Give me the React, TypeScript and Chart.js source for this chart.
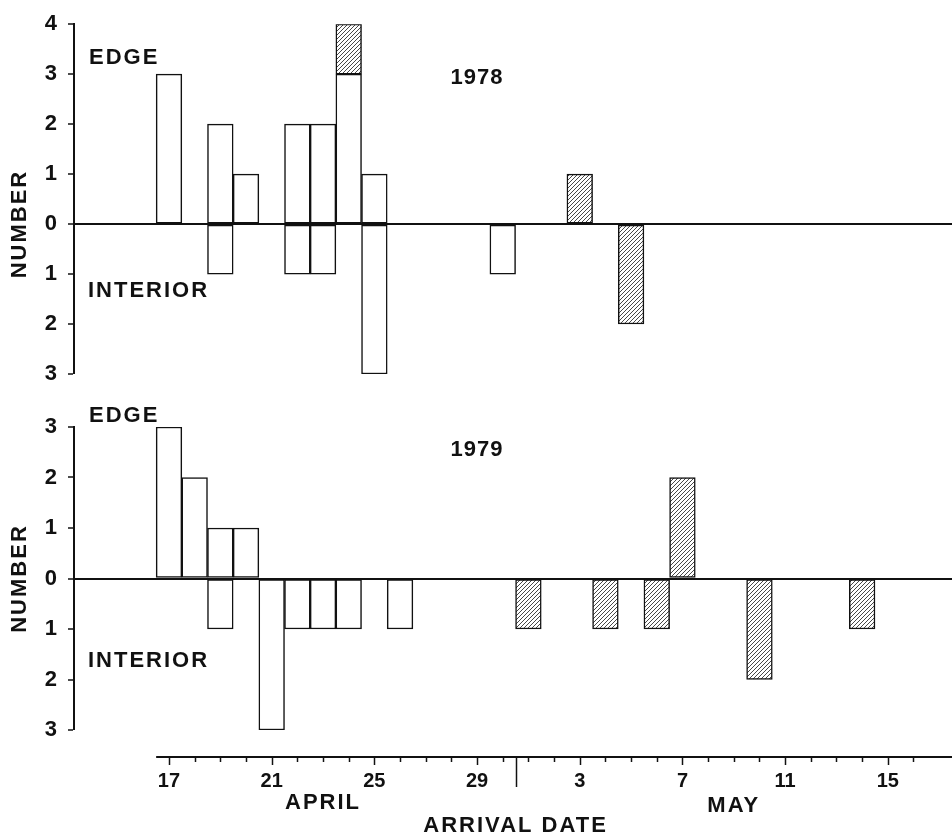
import React, { useEffect, useRef } from 'react';
import { Chart, registerables } from 'chart.js';

Chart.register(...registerables);

const FONT = "'Liberation Sans', Arial, Helvetica, sans-serif";
const INK = '#111';

// ---------- 1978 ----------
const EDGE_OPEN_1978_DATES = ['Apr 17', 'Apr 19', 'Apr 20', 'Apr 22', 'Apr 23', 'Apr 24', 'Apr 25'];
const EDGE_OPEN_1978 = [3, 2, 1, 2, 2, 3, 1];
const EDGE_HATCH_1978_DATES = ['Apr 24', 'May 3'];
const EDGE_HATCH_1978 = [1, 1];
const INTERIOR_OPEN_1978_DATES = ['Apr 19', 'Apr 22', 'Apr 23', 'Apr 25', 'Apr 30'];
const INTERIOR_OPEN_1978 = [1, 1, 1, 3, 1];
const INTERIOR_HATCH_1978_DATES = ['May 5'];
const INTERIOR_HATCH_1978 = [2];

// ---------- 1979 ----------
const EDGE_OPEN_1979_DATES = ['Apr 17', 'Apr 18', 'Apr 19', 'Apr 20'];
const EDGE_OPEN_1979 = [3, 2, 1, 1];
const EDGE_HATCH_1979_DATES = ['May 7'];
const EDGE_HATCH_1979 = [2];
const INTERIOR_OPEN_1979_DATES = ['Apr 19', 'Apr 21', 'Apr 22', 'Apr 23', 'Apr 24', 'Apr 26'];
const INTERIOR_OPEN_1979 = [1, 3, 1, 1, 1, 1];
const INTERIOR_HATCH_1979_DATES = ['May 1', 'May 4', 'May 6', 'May 10', 'May 14'];
const INTERIOR_HATCH_1979 = [1, 1, 1, 2, 1];

// ---------- x axis ----------
const X_TICK_DATES = ['Apr 17', 'Apr 21', 'Apr 25', 'Apr 29', 'May 3', 'May 7', 'May 11', 'May 15'];
const X_TICK_LABELS = ['17', '21', '25', '29', '3', '7', '11', '15'];
const MONTH_LABELS = ['APRIL', 'MAY'];
const MONTH_LABEL_DATES = ['Apr 23', 'May 9'];
const AXIS_FIRST_DATE = 'Apr 17';
const AXIS_LAST_DATE = 'May 16';
const X_TITLE = 'ARRIVAL DATE';
const Y_TITLE = 'NUMBER';

// day number counted from March 31
function dayNum(s: string): number {
  const [m, d] = s.split(' ');
  return (m === 'May' ? 30 : 0) + Number(d);
}

const X_MIN = dayNum('Apr 17') - 3.7;
const X_MAX = dayNum('May 15') + 2.5;

function makeHatch(): CanvasPattern | string {
  const s = 4;
  const c = document.createElement('canvas');
  c.width = s;
  c.height = s;
  const g = c.getContext('2d');
  if (!g) return '#ccc';
  g.fillStyle = '#fff';
  g.fillRect(0, 0, s, s);
  g.strokeStyle = '#333';
  g.lineWidth = 0.9;
  g.beginPath();
  g.moveTo(0, s);
  g.lineTo(s, 0);
  g.moveTo(-1, 1);
  g.lineTo(1, -1);
  g.moveTo(s - 1, s + 1);
  g.lineTo(s + 1, s - 1);
  g.stroke();
  return g.createPattern(c, 'repeat') || '#ccc';
}

type PanelCfg = {
  year: string;
  yearDate: string;
  yearAt: number;
  edgeAt: number;
  interiorAt: number;
  yMin: number;
  yMax: number;
  padTop: number;
  padBottom: number;
  edgeOpen: [string[], number[]];
  edgeHatch: [string[], number[]];
  interiorOpen: [string[], number[]];
  interiorHatch: [string[], number[]];
  xAxis: boolean;
};

const PANEL_1978: PanelCfg = {
  year: '1978',
  yearDate: 'Apr 29',
  yearAt: 2.92,
  edgeAt: 3.33,
  interiorAt: -1.33,
  yMin: -3,
  yMax: 4,
  padTop: 17,
  padBottom: 26,
  edgeOpen: [EDGE_OPEN_1978_DATES, EDGE_OPEN_1978],
  edgeHatch: [EDGE_HATCH_1978_DATES, EDGE_HATCH_1978],
  interiorOpen: [INTERIOR_OPEN_1978_DATES, INTERIOR_OPEN_1978],
  interiorHatch: [INTERIOR_HATCH_1978_DATES, INTERIOR_HATCH_1978],
  xAxis: false,
};

const PANEL_1979: PanelCfg = {
  year: '1979',
  yearDate: 'Apr 29',
  yearAt: 2.55,
  edgeAt: 3.21,
  interiorAt: -1.64,
  yMin: -3,
  yMax: 3,
  padTop: 27,
  padBottom: 106,
  edgeOpen: [EDGE_OPEN_1979_DATES, EDGE_OPEN_1979],
  edgeHatch: [EDGE_HATCH_1979_DATES, EDGE_HATCH_1979],
  interiorOpen: [INTERIOR_OPEN_1979_DATES, INTERIOR_OPEN_1979],
  interiorHatch: [INTERIOR_HATCH_1979_DATES, INTERIOR_HATCH_1979],
  xAxis: true,
};

function series(label: string, src: [string[], number[]], sign: number, fill: any) {
  const [dates, vals] = src;
  return {
    label,
    data: dates.map((d, i) => ({ x: dayNum(d), y: sign * vals[i] })),
    backgroundColor: fill,
    borderColor: INK,
    borderWidth: 1.5,
    borderSkipped: false as const,
    barPercentage: 1,
    categoryPercentage: 1,
  };
}

function makeChart(canvas: HTMLCanvasElement, cfg: PanelCfg, hatch: any) {
  const annotate = {
    id: 'annotate',
    afterDraw(chart: any) {
      const { ctx, chartArea } = chart;
      const x = chart.scales.x;
      const y = chart.scales.y;
      ctx.save();
      ctx.fillStyle = INK;
      ctx.textBaseline = 'middle';
      ctx.font = `bold 22px ${FONT}`;
      (ctx as any).letterSpacing = '2px';
      ctx.textAlign = 'left';
      ctx.fillText('EDGE', chartArea.left + 15, y.getPixelForValue(cfg.edgeAt));
      ctx.fillText('INTERIOR', chartArea.left + 14, y.getPixelForValue(cfg.interiorAt));
      (ctx as any).letterSpacing = '1px';
      ctx.textAlign = 'center';
      ctx.fillText(cfg.year, x.getPixelForValue(dayNum(cfg.yearDate)), y.getPixelForValue(cfg.yearAt));
      ctx.save();
      ctx.translate(20, y.getPixelForValue(0));
      ctx.rotate(-Math.PI / 2);
      (ctx as any).letterSpacing = '2px';
      ctx.fillText(Y_TITLE, 0, 0);
      ctx.restore();

      if (cfg.xAxis) {
        const y0 = chartArea.bottom + 27;
        ctx.strokeStyle = INK;
        ctx.lineWidth = 2;
        ctx.beginPath();
        ctx.moveTo(x.getPixelForValue(dayNum(AXIS_FIRST_DATE) - 0.5), y0);
        ctx.lineTo(chartArea.right, y0);
        ctx.stroke();
        const labeled = X_TICK_DATES.map(dayNum);
        ctx.lineWidth = 1.5;
        for (let d = dayNum(AXIS_FIRST_DATE); d <= dayNum(AXIS_LAST_DATE); d++) {
          const px = Math.round(x.getPixelForValue(d)) + 0.5;
          const len = labeled.includes(d) ? 8 : 5;
          ctx.beginPath();
          ctx.moveTo(px, y0);
          ctx.lineTo(px, y0 + len);
          ctx.stroke();
        }
        // month divider between Apr 30 and May 1
        const div = (dayNum('Apr 30') + dayNum('May 1')) / 2;
        const dpx = Math.round(x.getPixelForValue(div)) + 0.5;
        ctx.beginPath();
        ctx.moveTo(dpx, y0);
        ctx.lineTo(dpx, y0 + 30);
        ctx.stroke();

        (ctx as any).letterSpacing = '0px';
        ctx.font = `bold 20px ${FONT}`;
        ctx.textAlign = 'center';
        X_TICK_DATES.forEach((d, i) => {
          ctx.fillText(X_TICK_LABELS[i], x.getPixelForValue(dayNum(d)), y0 + 24);
        });
        ctx.font = `bold 22px ${FONT}`;
        (ctx as any).letterSpacing = '2px';
        MONTH_LABELS.forEach((m, i) => {
          ctx.fillText(m, x.getPixelForValue(dayNum(MONTH_LABEL_DATES[i])), y0 + (i === 0 ? 46 : 49));
        });
        ctx.fillText(X_TITLE, x.getPixelForValue(div), y0 + 69);
      }
      ctx.restore();
    },
  };

  return new Chart(canvas, {
    type: 'bar',
    data: {
      datasets: [
        series('Edge', cfg.edgeOpen, 1, '#fff'),
        series('Edge (hatched)', cfg.edgeHatch, 1, hatch),
        series('Interior', cfg.interiorOpen, -1, '#fff'),
        series('Interior (hatched)', cfg.interiorHatch, -1, hatch),
      ] as any,
    },
    options: {
      animation: false,
      responsive: false,
      layout: { padding: { left: 0, right: 0, top: cfg.padTop, bottom: cfg.padBottom } },
      plugins: { legend: { display: false }, tooltip: { enabled: false }, title: { display: false } },
      scales: {
        x: {
          type: 'linear',
          display: false,
          offset: false,
          stacked: true,
          min: X_MIN,
          max: X_MAX,
          grid: { offset: false },
          ticks: { stepSize: 1, includeBounds: false } as any,
        },
        y: {
          type: 'linear',
          stacked: true,
          min: cfg.yMin,
          max: cfg.yMax,
          afterFit: (s: any) => {
            s.width = 74;
          },
          ticks: {
            stepSize: 1,
            padding: 11,
            color: INK,
            font: { family: FONT, size: 22, weight: 'bold' },
            callback: (v: any) => String(Math.abs(Number(v))),
          },
          border: { display: true, color: INK, width: 2 },
          grid: {
            drawOnChartArea: true,
            drawTicks: true,
            tickLength: 6,
            tickColor: INK,
            tickWidth: 1.5,
            color: (c: any) => (c.tick && c.tick.value === 0 ? INK : 'rgba(0,0,0,0)'),
            lineWidth: (c: any) => (c.tick && c.tick.value === 0 ? 2 : 0),
          },
        },
      },
    } as any,
    plugins: [annotate],
  });
}

export default function App() {
  const topRef = useRef<HTMLCanvasElement>(null);
  const botRef = useRef<HTMLCanvasElement>(null);
  useEffect(() => {
    const hatch = makeHatch();
    const c1 = makeChart(topRef.current as HTMLCanvasElement, PANEL_1978, hatch);
    const c2 = makeChart(botRef.current as HTMLCanvasElement, PANEL_1979, hatch);
    return () => {
      c1.destroy();
      c2.destroy();
    };
  }, []);
  return (
    <div style={{ position: 'absolute', left: 0, top: 0, width: 952, height: 836, background: '#fff' }}>
      <canvas ref={topRef} width={952} height={400} style={{ position: 'absolute', left: 0, top: 0 }} />
      <canvas ref={botRef} width={952} height={436} style={{ position: 'absolute', left: 0, top: 400 }} />
    </div>
  );
}
